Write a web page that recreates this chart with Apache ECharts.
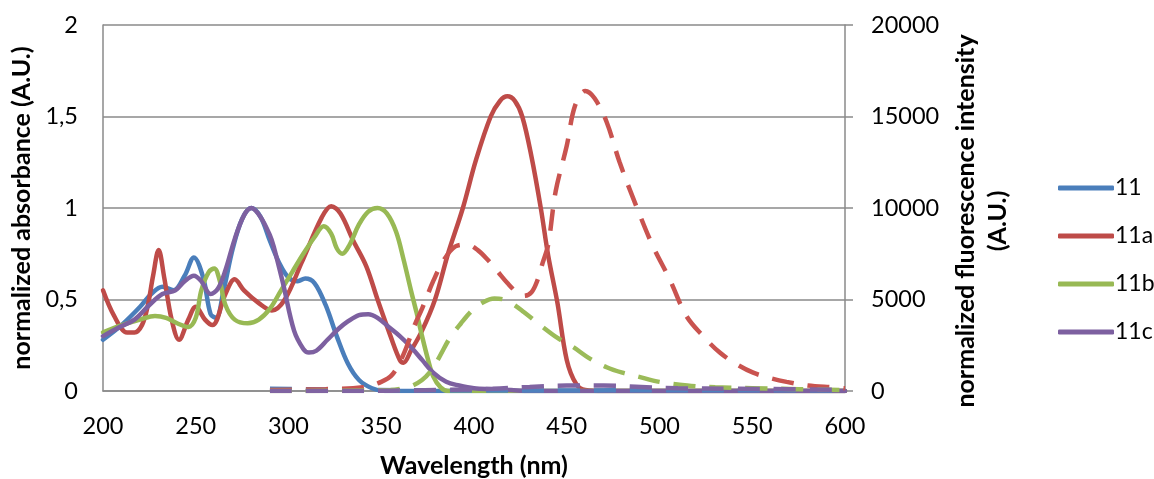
<!DOCTYPE html>
<html>
<head>
<meta charset="utf-8">
<title>Wavelength</title>
<script src="https://cdn.jsdelivr.net/npm/echarts@6/dist/echarts.min.js"></script>
<style>
html, body { margin: 0; padding: 0; background: #fff; }
#main { width: 1154px; height: 479px; }
</style>
</head>
<body>
<div id="main"></div>
<script>
// 吸收光谱 (左轴), [波长 nm, 吸光度]
var abs11 = [[200,0.28],[210,0.36],[220,0.46],[226,0.53],[232,0.57],[238,0.55],[244,0.63],[249,0.73],[254,0.62],[258,0.42],[261,0.40],[265,0.55],[270,0.78],[275,0.94],[280,1.00],[285,0.95],[290,0.82],[295,0.70],[300,0.62],[305,0.60],[309,0.615],[314,0.59],[320,0.47],[326,0.30],[332,0.15],[338,0.06],[345,0.015],[352,0],[400,0],[600,0]];
var abs11a = [[200,0.55],[206,0.41],[213,0.32],[217,0.32],[221,0.36],[224,0.46],[227,0.63],[230,0.77],[233,0.62],[237,0.39],[241,0.28],[246,0.39],[250,0.46],[255,0.39],[259,0.36],[266,0.53],[271,0.61],[276,0.55],[284,0.48],[291,0.44],[298,0.50],[307,0.70],[318,0.95],[323,1.01],[328,0.97],[335,0.82],[342,0.68],[348,0.50],[355,0.30],[360,0.17],[362,0.155],[366,0.22],[372,0.33],[379,0.50],[386,0.75],[394,1.00],[401,1.26],[409,1.50],[414,1.585],[418,1.61],[422,1.585],[426,1.50],[431,1.28],[436,1.00],[440,0.74],[445,0.48],[450,0.17],[455,0.04],[460,0.005],[470,0],[600,0]];
var abs11b = [[200,0.32],[210,0.36],[220,0.39],[228,0.41],[234,0.40],[240,0.37],[246,0.35],[250,0.40],[253,0.55],[257,0.65],[260,0.67],[263,0.60],[266,0.47],[271,0.39],[278,0.37],[284,0.39],[290,0.45],[296,0.55],[302,0.65],[308,0.75],[314,0.84],[319,0.90],[323,0.86],[326,0.78],[329,0.75],[333,0.80],[338,0.91],[343,0.98],[348,1.00],[353,0.97],[358,0.87],[362,0.72],[366,0.55],[369,0.43],[372,0.30],[375,0.18],[378,0.08],[382,0.02],[386,0],[450,0],[600,0]];
var abs11c = [[200,0.30],[209,0.35],[217,0.39],[225,0.47],[232,0.53],[239,0.55],[244,0.60],[249,0.63],[253,0.60],[258,0.53],[262,0.56],[266,0.66],[271,0.83],[276,0.96],[280,1.00],[285,0.95],[290,0.85],[292,0.79],[297,0.59],[303,0.33],[308,0.23],[311,0.21],[315,0.22],[321,0.28],[327,0.34],[332,0.38],[338,0.415],[343,0.42],[348,0.40],[354,0.35],[360,0.30],[366,0.24],[372,0.17],[378,0.10],[385,0.05],[392,0.03],[400,0.015],[410,0.01],[420,0.005],[430,0],[600,0]];

// 荧光光谱 (右轴), [波长 nm, 强度]
var fl11 = [[290,120],[320,80],[360,40],[400,30],[450,30],[500,40],[550,40],[600,30]];
var fl11a = [[290,50],[320,100],[340,200],[350,500],[356,900],[362,2000],[368,3600],[372,4500],[378,6000],[384,7200],[390,7900],[396,8000],[402,7700],[408,7100],[413,6500],[418,5900],[423,5400],[427,5200],[431,5400],[434,6000],[437,7000],[440,8000],[444,10900],[450,13400],[454.5,15600],[460,16400],[465,16000],[471.5,14700],[478.5,12500],[487.5,10100],[496.5,7900],[505.5,6100],[514.5,4100],[523.5,3000],[532.5,2100],[541,1500],[550.5,1000],[560,700],[568.5,500],[580,300],[593.5,200],[600,150]];
var fl11b = [[290,0],[355,50],[362,150],[367,300],[372,600],[376,1000],[381,1800],[387,2900],[393,3700],[399,4400],[405,4850],[411,5050],[416,5000],[421,4750],[427,4300],[437,3500],[445,2900],[453.5,2400],[462,1800],[471.5,1300],[480,1000],[488,800],[500,500],[515,300],[530,200],[550,150],[575,100],[600,50]];
var fl11c = [[290,0],[330,0],[380,50],[410,120],[430,220],[450,300],[470,300],[490,220],[510,150],[540,120],[570,100],[600,60]];

var legendNames = ['11', '11a', '11b', '11c'];
var xTicks = { min: 200, max: 600, interval: 50 };

var WaveChart = function() {
    var t = {
        font : 'Lato, "Open Sans", sans-serif',
        gray : '#8a8a8a',
        init : function(el) {
            t.chart = echarts.init(document.getElementById(el), null, { renderer : 'canvas' });
            t.render();
        },
        // 实线: 吸收
        solid : function(name, data, color) {
            return {
                name : name,
                type : 'line',
                yAxisIndex : 0,
                data : data,
                smooth : 0.35,
                showSymbol : false,
                symbol : 'none',
                lineStyle : { color : color, width : 4.5, cap : 'round', join : 'round' },
                itemStyle : { color : color }
            };
        },
        // 虚线: 荧光
        dashed : function(name, data, color) {
            return {
                name : name,
                type : 'line',
                yAxisIndex : 1,
                data : data,
                smooth : 0.35,
                showSymbol : false,
                symbol : 'none',
                lineStyle : { color : color, width : 4.5, type : [22, 14] },
                itemStyle : { color : color }
            };
        },
        render : function() {
            var option = {
                animation : false,
                textStyle : { fontFamily : t.font },
                grid : { left : 103, right : 309, top : 25, bottom : 88, containLabel : false, outerBoundsMode : 'none' },
                legend : {
                    data : legendNames,
                    orient : 'vertical',
                    left : 1053,
                    top : 171,
                    itemWidth : 56,
                    itemHeight : 5,
                    itemGap : 24,
                    icon : 'roundRect',
                    textStyle : { fontSize : 23, lineHeight : 24, color : '#000', fontFamily : t.font, padding : [0, 0, 0, -4] }
                },
                xAxis : {
                    type : 'value',
                    min : xTicks.min,
                    max : xTicks.max,
                    interval : xTicks.interval,
                    name : 'Wavelength (nm)',
                    nameLocation : 'middle',
                    nameGap : 62,
                    nameTextStyle : { fontSize : 25, fontWeight : 'bold', color : '#000', fontFamily : t.font },
                    axisLine : { lineStyle : { color : t.gray, width : 1.5 } },
                    axisTick : { show : false },
                    splitLine : { show : false },
                    axisLabel : { fontSize : 23.5, color : '#000', margin : 23, fontFamily : t.font }
                },
                yAxis : [ {
                    type : 'value',
                    min : 0,
                    max : 2,
                    interval : 0.5,
                    name : 'normalized absorbance (A.U.)',
                    nameLocation : 'middle',
                    nameRotate : 90,
                    nameGap : 66,
                    nameTextStyle : { fontSize : 25, fontWeight : 'bold', color : '#000', fontFamily : t.font },
                    axisLine : { show : true, lineStyle : { color : t.gray, width : 1.5 } },
                    axisTick : { show : false },
                    splitLine : { lineStyle : { color : t.gray, width : 1.5 } },
                    axisLabel : {
                        fontSize : 23.5, color : '#000', margin : 25, fontFamily : t.font,
                        formatter : function(v) { return String(v).replace('.', ','); }
                    }
                }, {
                    type : 'value',
                    min : 0,
                    max : 20000,
                    interval : 5000,
                    position : 'right',
                    name : 'normalized fluorescence intensity\n(A.U.)',
                    nameLocation : 'middle',
                    nameRotate : 90,
                    nameGap : 104,
                    nameTextStyle : { fontSize : 25, fontWeight : 'bold', color : '#000', lineHeight : 32, fontFamily : t.font, padding : [0, 0, 0, -26] },
                    axisLine : { show : true, lineStyle : { color : t.gray, width : 1.5 } },
                    axisTick : { show : true, inside : false, length : 8, lineStyle : { color : t.gray, width : 1.5 } },
                    splitLine : { show : false },
                    axisLabel : {
                        fontSize : 23.5, color : '#000', margin : 26, fontFamily : t.font,
                        formatter : function(v) { return String(v); }
                    }
                } ],
                series : [
                    t.solid('11', abs11, '#4A7EBB'),
                    t.solid('11a', abs11a, '#BE4B48'),
                    t.solid('11b', abs11b, '#98B954'),
                    t.solid('11c', abs11c, '#7D60A0'),
                    t.dashed('11 fl', fl11, '#4F81BD'),
                    t.dashed('11a fl', fl11a, '#C9534F'),
                    t.dashed('11b fl', fl11b, '#9BBB59'),
                    t.dashed('11c fl', fl11c, '#8064A2')
                ]
            };
            t.chart.setOption(option);
        }
    };
    return t;
}();

WaveChart.init('main');
</script>
</body>
</html>
